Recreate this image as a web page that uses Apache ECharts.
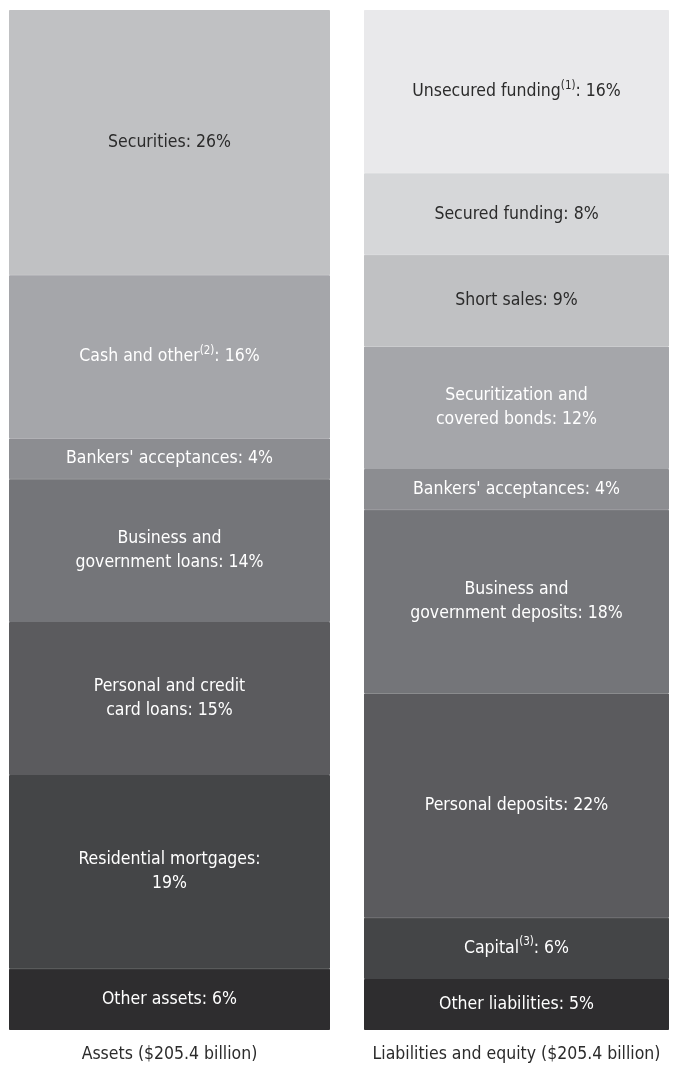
<!DOCTYPE html>
<html>
<head>
<meta charset="utf-8">
<script src="https://cdn.jsdelivr.net/npm/echarts@6/dist/echarts.min.js"></script>
<style>
  html, body { margin: 0; padding: 0; background: #ffffff; }
  #chart { width: 678px; height: 1070px; }
</style>
</head>
<body>
<div id="chart"></div>
<script>
// Balance sheet composition, listed top of bar to bottom
const assetLabels = ['Securities', 'Cash and other', "Bankers' acceptances", 'Business and\ngovernment loans', 'Personal and credit\ncard loans', 'Residential mortgages:\n', 'Other assets'];
const assetNotes = ['', '(2)', '', '', '', '', ''];
const assetValues = [26, 16, 4, 14, 15, 19, 6];
const assetColors = ['#c0c1c3', '#a5a6aa', '#8c8d91', '#747579', '#5b5b5e', '#444547', '#2e2d2f'];

const liabLabels = ['Unsecured funding', 'Secured funding', 'Short sales', 'Securitization and\ncovered bonds', "Bankers' acceptances", 'Business and\ngovernment deposits', 'Personal deposits', 'Capital', 'Other liabilities'];
const liabNotes = ['(1)', '', '', '', '', '', '', '(3)', ''];
const liabValues = [16, 8, 9, 12, 4, 18, 22, 6, 5];
const liabColors = ['#e9e9eb', '#d6d7d9', '#c0c1c3', '#a5a6aa', '#8c8d91', '#747579', '#5b5b5e', '#444547', '#2e2d2f'];

const barTitles = ['Assets ($205.4 billion)', 'Liabilities and equity ($205.4 billion)'];

const FONT = '"Liberation Sans Narrow", "DejaVu Sans Condensed", sans-serif';
const FONT_SIZE = 17.5;
const DARK_TEXT = ['#c0c1c3', '#d6d7d9', '#e9e9eb'];

function labelText(name, note, value) {
  const sup = note ? '{s|' + note + '}' : '';
  if (name.endsWith('\n')) return name + value + '%';
  return name + sup + ': ' + value + '%';
}

function buildSeries(labels, notes, values, colors, gridIdx) {
  const out = [];
  // stacked from the bottom up, so walk the lists in reverse
  for (let i = labels.length - 1; i >= 0; i--) {
    const txtColor = DARK_TEXT.includes(colors[i]) ? '#2b2b2b' : '#ffffff';
    out.push({
      type: 'bar',
      name: labels[i],
      xAxisIndex: gridIdx,
      yAxisIndex: gridIdx,
      stack: 'total' + gridIdx,
      barWidth: '100%',
      // a hairline border in the fill colour hides seams between segments
      itemStyle: { color: colors[i], borderColor: colors[i], borderWidth: 1 },
      emphasis: { disabled: true },
      label: {
        show: true,
        position: 'inside',
        color: txtColor,
        fontFamily: FONT,
        fontSize: FONT_SIZE,
        lineHeight: 24,
        align: 'center',
        formatter: () => labelText(labels[i], notes[i], values[i]),
        rich: {
          s: { fontSize: 11.5, lineHeight: 12, verticalAlign: 'top', color: txtColor, fontFamily: FONT }
        }
      },
      data: [values[i]]
    });
  }
  return out;
}

const chart = echarts.init(document.getElementById('chart'), null, { renderer: 'canvas' });

const axisCommon = (idx) => ({
  type: 'category',
  gridIndex: idx,
  data: [barTitles[idx]],
  axisLine: { show: false },
  axisTick: { show: false },
  axisLabel: { color: '#2b2b2b', fontFamily: FONT, fontSize: FONT_SIZE, margin: 15 }
});

const valueCommon = (idx) => ({
  type: 'value',
  gridIndex: idx,
  min: 0,
  max: 100,
  show: false
});

chart.setOption({
  animation: false,
  grid: [
    { left: 9, top: 10, width: 321, bottom: 40 },
    { left: 364, top: 10, width: 305, bottom: 40 }
  ],
  xAxis: [axisCommon(0), axisCommon(1)],
  yAxis: [valueCommon(0), valueCommon(1)],
  series: [
    ...buildSeries(assetLabels, assetNotes, assetValues, assetColors, 0),
    ...buildSeries(liabLabels, liabNotes, liabValues, liabColors, 1)
  ]
});
</script>
</body>
</html>
